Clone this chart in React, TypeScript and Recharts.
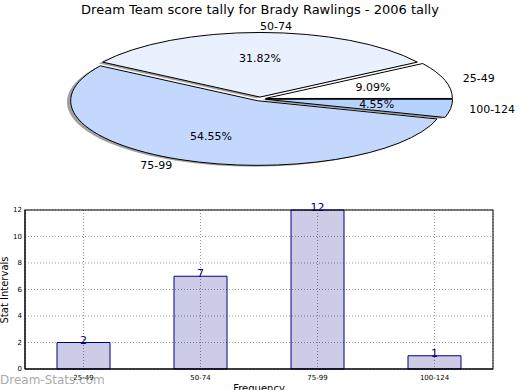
import React from 'react';
import { PieChart, Pie, Cell, BarChart, Bar, XAxis, YAxis, CartesianGrid, LabelList } from 'recharts';

const categories = ['25-49', '50-74', '75-99', '100-124'];
const counts = [2, 7, 12, 1];
const sliceColors = ['#ffffff', '#eaf1fe', '#c4d8fe', '#b6d3ff'];
const yTicks = [0, 2, 4, 6, 8, 10, 12];

const pieData = categories.map((name, i) => ({ name, value: counts[i] }));
const barData = categories.map((name, i) => ({ name, value: counts[i] }));

const FONT = '"DejaVu Sans", sans-serif';
// pie is drawn flattened, like the original
const SQUASH = 64.6 / 187;
const EXPLODE = 0.03;
const SHADOW = 0.02;
const RAD = Math.PI / 180;

function wedgePath(cx: number, cy: number, r: number, start: number, end: number, dx: number, dy: number) {
  const rx = r;
  const ry = r * SQUASH;
  const x0 = cx + dx;
  const y0 = cy + dy;
  const x1 = x0 + rx * Math.cos(start * RAD);
  const y1 = y0 - ry * Math.sin(start * RAD);
  const x2 = x0 + rx * Math.cos(end * RAD);
  const y2 = y0 - ry * Math.sin(end * RAD);
  const large = Math.abs(end - start) > 180 ? 1 : 0;
  return `M${x0},${y0} L${x1},${y1} A${rx},${ry} 0 ${large} 0 ${x2},${y2} Z`;
}

function offsetFor(mid: number, r: number) {
  return { dx: EXPLODE * r * Math.cos(mid * RAD), dy: -EXPLODE * r * SQUASH * Math.sin(mid * RAD) };
}

const Wedge = (props: any) => {
  const { cx, cy, outerRadius, startAngle, endAngle, midAngle, fill } = props;
  const { dx, dy } = offsetFor(midAngle, outerRadius);
  return <path d={wedgePath(cx, cy, outerRadius, startAngle, endAngle, dx, dy)} fill={fill} stroke="#000" strokeWidth={1} />;
};

const ShadowWedge = (props: any) => {
  const { cx, cy, outerRadius, startAngle, endAngle, midAngle } = props;
  const { dx, dy } = offsetFor(midAngle, outerRadius);
  return (
    <path
      d={wedgePath(cx, cy, outerRadius, startAngle, endAngle, dx - SHADOW * outerRadius, dy + SHADOW * outerRadius * SQUASH)}
      fill="#444"
      fillOpacity={0.5}
      stroke="none"
    />
  );
};

const PieLabel = (props: any) => {
  const { cx, cy, outerRadius, midAngle, percent, name, payload } = props;
  const { dx, dy } = offsetFor(midAngle, outerRadius);
  const c = Math.cos(midAngle * RAD);
  const s = Math.sin(midAngle * RAD);
  const ry = outerRadius * SQUASH;
  const lx = cx + dx + 1.1 * outerRadius * c;
  const ly = cy + dy - 1.1 * ry * s;
  const px = cx + dx + 0.6 * outerRadius * c;
  const py = cy + dy - 0.6 * ry * s;
  return (
    <g>
      <text x={lx} y={ly} textAnchor={c >= 0 ? 'start' : 'end'} dominantBaseline="central" fontSize={11} fontFamily={FONT} fill="#000">
        {name ?? payload?.name}
      </text>
      <text x={px} y={py} textAnchor="middle" dominantBaseline="central" fontSize={11} fontFamily={FONT} fill="#000">
        {(percent * 100).toFixed(2)}%
      </text>
    </g>
  );
};

export default function App() {
  return (
    <div style={{ position: 'absolute', left: 0, top: 0, width: 520, height: 390, background: '#fff', overflow: 'hidden', fontFamily: FONT }}>
      <div style={{ position: 'absolute', left: 0, top: 2, width: 520, textAlign: 'center', fontSize: 13, lineHeight: '16px' }}>
        Dream Team score tally for Brady Rawlings - 2006 tally
      </div>

      <div style={{ position: 'absolute', left: 0, top: 0 }}>
        <PieChart width={520} height={195} margin={{ top: 0, right: 0, bottom: 0, left: 0 }}>
          <Pie
            data={pieData}
            dataKey="value"
            nameKey="name"
            cx={260}
            cy={99}
            outerRadius={187}
            startAngle={0}
            endAngle={360}
            isAnimationActive={false}
            shape={ShadowWedge}
            inactiveShape={ShadowWedge}
            activeShape={ShadowWedge}
            label={false}
            labelLine={false}
          >
            {pieData.map((d, i) => (
              <Cell key={d.name} fill={sliceColors[i]} />
            ))}
          </Pie>
          <Pie
            data={pieData}
            dataKey="value"
            nameKey="name"
            cx={260}
            cy={99}
            outerRadius={187}
            startAngle={0}
            endAngle={360}
            isAnimationActive={false}
            shape={Wedge}
            inactiveShape={Wedge}
            activeShape={Wedge}
            label={PieLabel}
            labelLine={false}
          >
            {pieData.map((d, i) => (
              <Cell key={d.name} fill={sliceColors[i]} />
            ))}
          </Pie>
        </PieChart>
      </div>

      <div style={{ position: 'absolute', left: 0, top: 200 }}>
        <BarChart width={520} height={190} data={barData} margin={{ top: 10, right: 27, bottom: 0, left: 0 }}>
          <CartesianGrid stroke="#999" strokeDasharray="1 2" />
          <XAxis
            dataKey="name"
            height={21}
            tick={{ fontSize: 7, fill: '#000', fontFamily: FONT }}
            tickLine={false}
            tickSize={3}
            tickMargin={3}
            axisLine={{ stroke: '#000' }}
          />
          <YAxis
            width={25}
            domain={[0, 12]}
            ticks={yTicks}
            interval={0}
            tick={{ fontSize: 7, fill: '#000', fontFamily: FONT }}
            tickLine={false}
            tickSize={2}
            tickMargin={1}
            axisLine={{ stroke: '#000' }}
          />
          {/* translucent navy fill lets the grid show through, as in the original */}
          <Bar dataKey="value" barSize={53} fill="#000080" fillOpacity={0.2} stroke="#000080" strokeWidth={1} isAnimationActive={false}>
            <LabelList dataKey="value" position="top" offset={-1} fill="#000080" fontSize={11} fontFamily={FONT} />
          </Bar>
        </BarChart>
      </div>

      {/* frame around the bar plot */}
      <svg style={{ position: 'absolute', left: 0, top: 0, pointerEvents: 'none' }} width={520} height={390}>
        <rect x={25} y={210} width={468} height={159} fill="none" stroke="#000" strokeWidth={1} />
      </svg>

      <div
        style={{
          position: 'absolute',
          left: 5,
          top: 290,
          fontSize: 10,
          lineHeight: '12px',
          whiteSpace: 'nowrap',
          transform: 'translate(-50%, -50%) rotate(-90deg)',
        }}
      >
        Stat Intervals
      </div>
      <div style={{ position: 'absolute', left: 0, top: 383, width: 518, textAlign: 'center', fontSize: 10, lineHeight: '12px' }}>
        Frequency
      </div>
      <div style={{ position: 'absolute', left: 0, top: 373, fontSize: 12, lineHeight: '14px', color: 'rgba(130,130,130,0.7)' }}>
        Dream-Stats.com
      </div>
    </div>
  );
}
